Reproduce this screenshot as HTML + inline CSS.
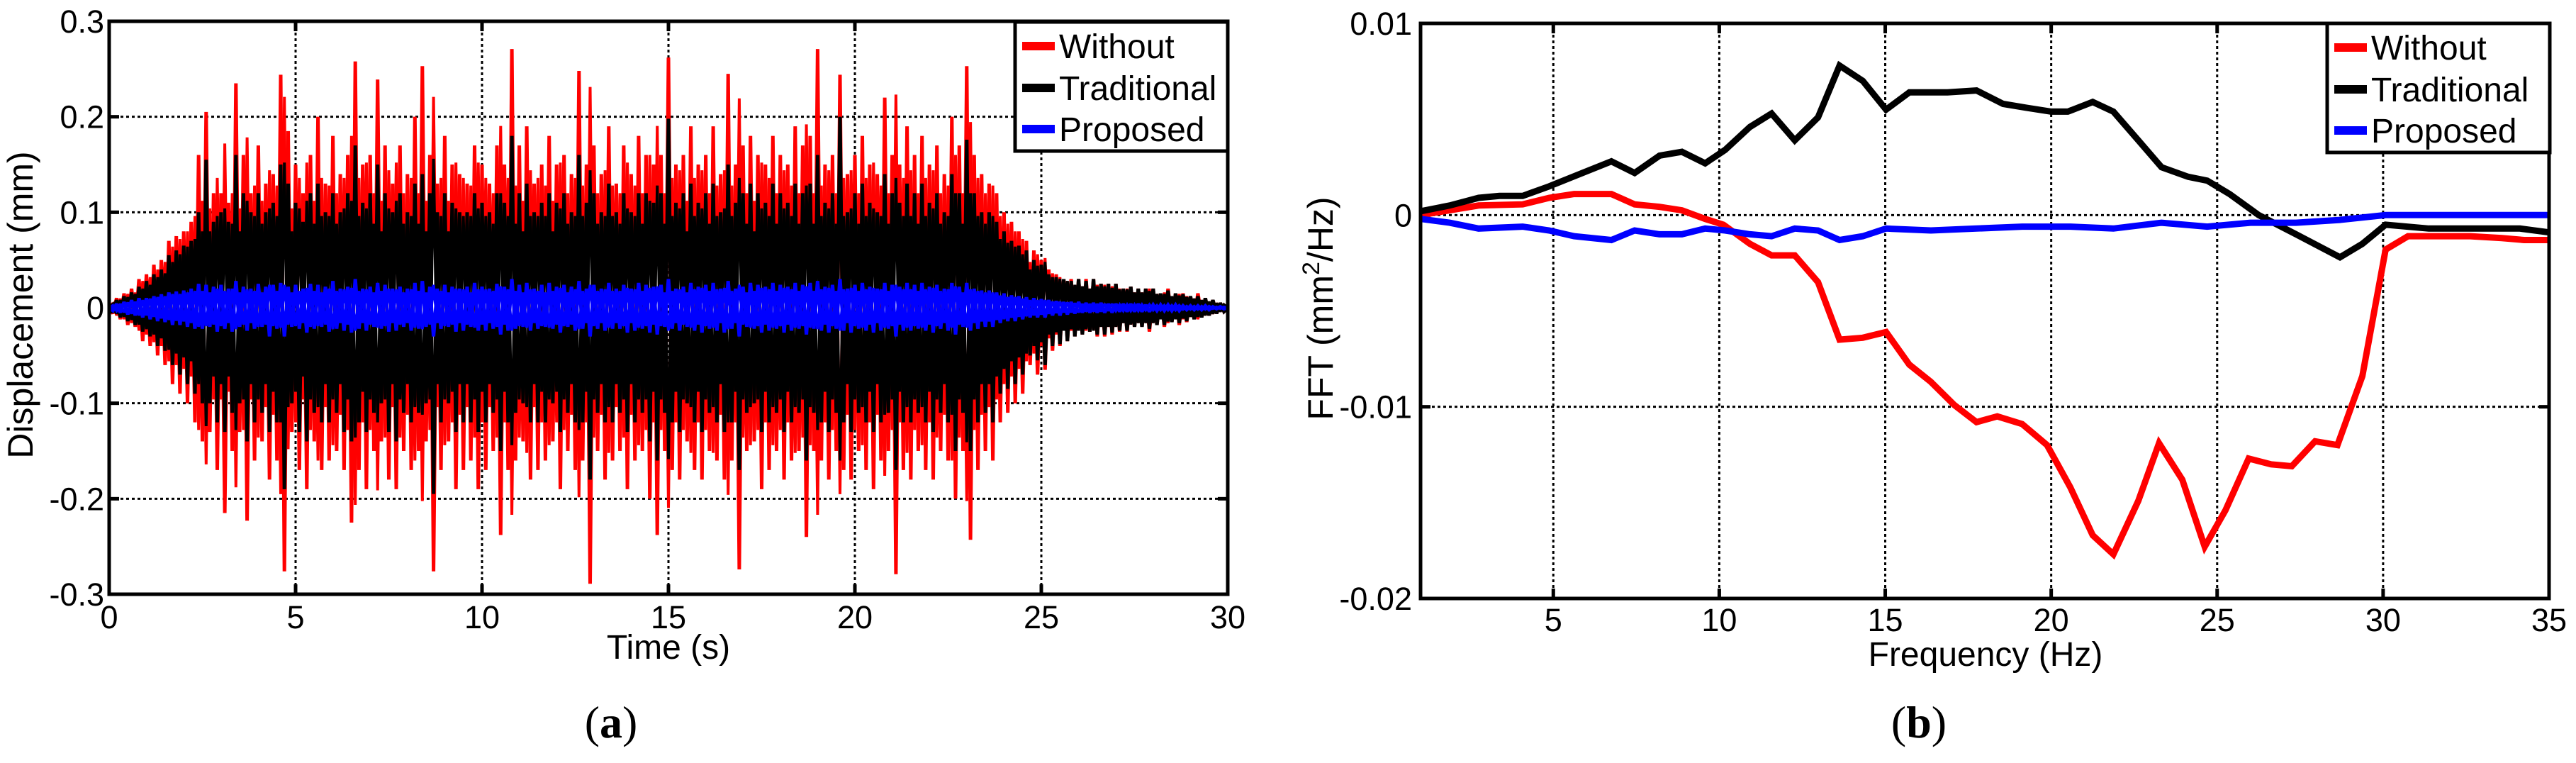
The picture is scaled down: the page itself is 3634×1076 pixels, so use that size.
<!DOCTYPE html>
<html><head><meta charset="utf-8"><style>
html,body{margin:0;padding:0;background:#fff;}
svg{display:block;font-family:"Liberation Sans",Arial,sans-serif;}
</style></head><body>
<svg id="fig" width="3634" height="1076" viewBox="0 0 3634 1076" xmlns="http://www.w3.org/2000/svg">
<rect x="0" y="0" width="3634" height="1076" fill="#fff"/>
<g id="pa"></g>
<g id="pb"></g>
<text x="862" y="1040" text-anchor="middle" font-family="'Liberation Serif',serif" font-size="64">(<tspan font-weight="bold">a</tspan>)</text>
<text x="2707" y="1040" text-anchor="middle" font-family="'Liberation Serif',serif" font-size="64">(<tspan font-weight="bold">b</tspan>)</text>
</svg>
<script>
// ---------- Chart (a) data: displacement samples every 0.1 s ----------
const aTimeStep = 0.1;
const aXTicks = [0,5,10,15,20,25,30];
const aYTicks = [-0.3,-0.2,-0.1,0,0.1,0.2,0.3];
const aYTickLabels = ["-0.3","-0.2","-0.1","0","0.1","0.2","0.3"];
const aWithout = [
0,-.006,.01,-.012,.015,-.018,.02,-.02,.03,-.035,
.035,-.04,.045,-.05,.05,-.06,.07,-.08,.075,-.09,
.08,-.1,.09,-.12,.16,-.14,.205,-.13,.12,-.17,
.12,-.215,.11,-.15,.235,-.13,.16,-.223,.12,-.16,
.17,-.14,.13,-.18,.14,-.16,.244,-.276,.185,-.13,
.15,-.17,.12,-.19,.16,-.14,.2,-.17,.13,-.16,
.18,-.15,.14,-.17,.16,-.225,.258,-.17,.15,-.19,
.16,-.15,.239,-.14,.17,-.18,.13,-.19,.17,-.15,
.14,-.17,.2,-.15,.253,-.14,.16,-.276,.13,-.17,
.18,-.14,.15,-.19,.14,-.17,.13,-.16,.17,-.19,
.15,-.17,.13,-.15,.17,-.238,.15,-.17,.271,-.16,
.17,-.14,.19,-.18,.13,-.17,.15,-.16,.18,-.14,
.15,-.19,.16,-.15,.14,-.17,.248,-.16,.15,-.289,
.17,-.15,.14,-.18,.19,-.16,.13,-.15,.17,-.19,
.14,-.16,.18,-.15,.16,-.2,.15,-.238,.16,-.15,
.262,-.17,.15,-.18,.16,-.14,.19,-.17,.15,-.18,
.16,-.15,.19,-.16,.14,-.18,.245,-.16,.15,-.274,
.17,-.15,.18,-.14,.16,-.19,.15,-.17,.18,-.15,
.16,-.18,.15,-.16,.19,-.15,.17,-.24,.18,-.15,
.271,-.16,.15,-.18,.16,-.15,.244,-.17,.14,-.18,
.16,-.15,.18,-.17,.15,-.19,.14,-.16,.22,-.15,
.16,-.279,.15,-.17,.19,-.18,.16,-.15,.18,-.17,
.15,-.18,.17,-.15,.14,-.16,.2,-.2,.17,-.15,
.253,-.243,.16,-.17,.14,-.15,.13,-.16,.12,-.12,
.1,-.11,.09,-.1,.08,-.09,.07,-.06,.06,-.07,
.05,-.065,.04,-.045,.035,-.04,.03,-.035,.03,-.03,
.03,-.028,.03,-.025,.03,-.03,.025,-.03,.025,-.028,
.025,-.025,.02,-.025,.022,-.02,.02,-.02,.02,-.025,
.02,-.018,.015,-.02,.02,-.015,.015,-.018,.015,-.015,
.012,-.012,.015,-.01,.01,-.008,.008,-.006,.005,-.004,
0];
const aTraditional = [
0,-.005,.008,-.01,.012,-.014,.016,-.018,.022,-.025,
.028,-.03,.035,-.04,.04,-.045,.055,-.06,.06,-.07,
.065,-.08,.07,-.09,.1,-.1,.155,-.1,.09,-.12,
.1,-.13,.09,-.11,.16,-.1,.12,-.14,.1,-.12,
.12,-.11,.1,-.13,.11,-.12,.15,-.19,.13,-.1,
.11,-.13,.09,-.14,.12,-.11,.13,-.12,.1,-.12,
.12,-.11,.1,-.13,.12,-.14,.17,-.12,.11,-.13,
.12,-.11,.15,-.1,.12,-.13,.1,-.14,.12,-.11,
.1,-.12,.13,-.11,.14,-.1,.12,-.195,.1,-.12,
.12,-.1,.11,-.13,.1,-.12,.1,-.12,.12,-.13,
.11,-.12,.1,-.11,.12,-.15,.11,-.12,.18,-.11,
.12,-.1,.13,-.12,.1,-.12,.11,-.12,.12,-.1,
.11,-.13,.12,-.11,.1,-.12,.16,-.12,.11,-.18,
.12,-.11,.1,-.12,.13,-.12,.1,-.11,.12,-.13,
.1,-.12,.12,-.11,.12,-.14,.11,-.16,.12,-.11,
.198,-.12,.11,-.13,.12,-.1,.13,-.12,.11,-.13,
.12,-.11,.13,-.12,.1,-.13,.15,-.12,.11,-.17,
.12,-.11,.13,-.1,.12,-.13,.11,-.12,.13,-.11,
.12,-.13,.11,-.12,.13,-.11,.12,-.16,.13,-.11,
.16,-.12,.11,-.13,.12,-.11,.2,-.12,.1,-.13,
.12,-.11,.13,-.12,.11,-.13,.1,-.12,.14,-.11,
.12,-.17,.11,-.12,.13,-.12,.12,-.11,.13,-.12,
.11,-.13,.12,-.11,.1,-.12,.14,-.15,.12,-.11,
.176,-.15,.12,-.12,.1,-.11,.1,-.12,.09,-.09,
.08,-.085,.07,-.08,.065,-.07,.06,-.05,.05,-.055,
.045,-.06,.035,-.04,.032,-.038,.03,-.035,.028,-.03,
.03,-.028,.028,-.025,.03,-.028,.025,-.028,.025,-.026,
.025,-.024,.02,-.024,.022,-.02,.02,-.02,.02,-.022,
.02,-.018,.015,-.018,.018,-.015,.015,-.016,.014,-.014,
.012,-.012,.012,-.01,.01,-.008,.008,-.006,.005,-.004,
0];
const aProposed = [
0,-.003,.004,-.005,.006,-.007,.008,-.008,.01,-.01,
.01,-.012,.012,-.014,.014,-.015,.016,-.018,.017,-.018,
.018,-.02,.02,-.022,.025,-.022,.024,-.02,.022,-.025,
.024,-.022,.02,-.025,.028,-.02,.022,-.024,.02,-.022,
.025,-.02,.022,-.03,.024,-.022,.026,-.03,.022,-.02,
.024,-.022,.02,-.026,.025,-.022,.024,-.02,.022,-.025,
.028,-.022,.02,-.024,.022,-.026,.03,-.022,.02,-.024,
.022,-.02,.026,-.022,.024,-.025,.02,-.024,.022,-.02,
.02,-.024,.026,-.022,.028,-.02,.022,-.03,.02,-.022,
.024,-.02,.022,-.025,.02,-.024,.022,-.02,.026,-.024,
.022,-.024,.02,-.022,.025,-.028,.022,-.024,.03,-.022,
.024,-.02,.026,-.024,.02,-.022,.024,-.02,.026,-.022,
.022,-.026,.024,-.02,.022,-.024,.028,-.022,.02,-.03,
.024,-.022,.02,-.024,.026,-.022,.02,-.022,.024,-.026,
.02,-.024,.026,-.022,.024,-.026,.022,-.028,.024,-.02,
.03,-.022,.02,-.024,.022,-.02,.026,-.024,.022,-.026,
.024,-.022,.026,-.024,.02,-.026,.028,-.022,.02,-.03,
.022,-.02,.026,-.022,.024,-.026,.022,-.024,.026,-.022,
.024,-.026,.022,-.024,.026,-.022,.024,-.028,.026,-.022,
.028,-.024,.022,-.026,.024,-.022,.03,-.024,.02,-.026,
.024,-.022,.026,-.024,.022,-.026,.02,-.024,.026,-.022,
.024,-.03,.022,-.024,.026,-.024,.024,-.022,.026,-.024,
.022,-.026,.024,-.022,.02,-.024,.026,-.028,.022,-.02,
.026,-.024,.02,-.022,.018,-.02,.018,-.02,.016,-.016,
.015,-.014,.013,-.014,.012,-.012,.011,-.01,.01,-.01,
.009,-.01,.008,-.008,.007,-.008,.006,-.007,.006,-.006,
.006,-.005,.005,-.005,.005,-.005,.005,-.005,.004,-.005,
.004,-.004,.004,-.004,.004,-.004,.004,-.004,.003,-.004,
.003,-.003,.003,-.003,.003,-.003,.003,-.003,.002,-.002,
.002,-.002,.002,-.002,.002,-.002,.001,-.001,.001,-.001,
0];

// ---------- Chart (b) data: FFT ----------
const bXTicks = [5,10,15,20,25,30,35];
const bYTicks = [-0.02,-0.01,0,0.01];
const bYTickLabels = ["-0.02","-0.01","0","0.01"];
const bTradFreq = [1,1.875,2.75,3.375,4.075,4.875,5.875,6.75,7.45,8.2,8.875,9.575,10.175,10.925,11.575,12.275,12.975,13.625,14.325,15.025,15.725,16.875,17.75,18.55,19.25,20,20.5,21.25,21.875,22.625,23.325,24.125,24.7,25.375,26.25,27.375,28.7,29.375,30.075,31.375,32.625,34.125,35];
const bTradVal = [.0002,.0005,.0009,.001,.001,.0015,.0022,.0028,.0022,.0031,.0033,.0027,.0034,.0046,.0053,.0039,.0051,.0078,.007,.0055,.0064,.0064,.0065,.0058,.0056,.0054,.0054,.0059,.0054,.0039,.0025,.002,.0018,.0011,0,-.001,-.0022,-.0015,-.0005,-.0007,-.0007,-.0007,-.0009];
const bWithoutFreq = [1,1.875,2.75,4.075,4.875,5.625,6.75,7.45,8.2,8.875,9.575,10.125,10.925,11.575,12.275,12.975,13.625,14.325,15.025,15.725,16.375,17.075,17.75,18.375,19.125,19.875,20.575,21.25,21.875,22.625,23.25,23.95,24.625,25.25,25.95,26.625,27.25,27.95,28.625,29.375,30.075,30.75,31.375,32.625,33.575,34.25,35];
const bWithoutVal = [0,.00025,.0005,.00056,.0009,.0011,.0011,.00056,.00043,.00025,-.0002,-.0005,-.0015,-.0021,-.0021,-.0035,-.0065,-.0064,-.0061,-.0078,-.0087,-.0099,-.0108,-.0105,-.0109,-.012,-.0142,-.0167,-.0177,-.0149,-.0119,-.0138,-.0173,-.0154,-.0127,-.013,-.0131,-.0118,-.012,-.0084,-.0018,-.0011,-.0011,-.0011,-.0012,-.0013,-.0013];
const bPropFreq = [1,1.875,2.75,4.075,4.875,5.625,6.75,7.45,8.2,8.875,9.575,10.175,10.925,11.575,12.275,12.975,13.625,14.325,15.025,16.375,17.75,19.125,20.575,21.875,23.325,24.7,26,27.375,28.7,30.075,31.375,35];
const bPropVal = [-.0002,-.0004,-.0007,-.0006,-.0008,-.0011,-.0013,-.0008,-.001,-.001,-.0007,-.0008,-.001,-.0011,-.0007,-.0008,-.0013,-.0011,-.0007,-.0008,-.0007,-.0006,-.0006,-.0007,-.0004,-.0006,-.0004,-.0004,-.00025,0,0,0];
const legendNames = ["Without","Traditional","Proposed"];

const NS = "http://www.w3.org/2000/svg";
function mk(parent, tag, attrs){
  const e = document.createElementNS(NS, tag);
  for (const k in attrs) e.setAttribute(k, attrs[k]);
  parent.appendChild(e);
  return e;
}

function drawAxes(g, L, R, T, B, xs, ys, xTicks, yTicks, yLabels, xGrid, yGrid, yLabelX, xLabelY){
  xGrid.forEach(v=>{
    const l = mk(g,'line',{x1:xs(v),x2:xs(v),y1:T,y2:B,stroke:'#000','stroke-width':3,'stroke-dasharray':'4 4'});
    
    
  });
  yGrid.forEach(v=>{
    const l = mk(g,'line',{x1:L,x2:R,y1:ys(v),y2:ys(v),stroke:'#000','stroke-width':3,'stroke-dasharray':'4 4'});
    
    
  });
  xTicks.forEach(v=>{
    const x = xs(v);
    mk(g,'line',{x1:x,x2:x,y1:B,y2:B-14,stroke:'#000','stroke-width':5});
    mk(g,'line',{x1:x,x2:x,y1:T,y2:T+14,stroke:'#000','stroke-width':5});
    const t = mk(g,'text',{x:x,y:xLabelY,'text-anchor':'middle','font-size':45});
    t.textContent = String(v);
    
    
  });
  yTicks.forEach((v,i)=>{
    const y = ys(v);
    mk(g,'line',{x1:L,x2:L+14,y1:y,y2:y,stroke:'#000','stroke-width':5});
    mk(g,'line',{x1:R,x2:R-14,y1:y,y2:y,stroke:'#000','stroke-width':5});
    const t = mk(g,'text',{x:yLabelX,y:y+16,'text-anchor':'end','font-size':45});
    t.textContent = yLabels[i];
    
    
  });
}

function frame(g,L,R,T,B){
  const r = mk(g,'rect',{x:L,y:T,width:R-L,height:B-T,fill:'none',stroke:'#000','stroke-width':5});
  
  
}

function legend(g, x0, y0, x1, y1, colors, sw){
  const box = mk(g,'rect',{x:x0,y:y0,width:x1-x0,height:y1-y0,fill:'#fff',stroke:'#000','stroke-width':5});
  
  
  const rows=[y0+34,y0+93,y0+151];
  legendNames.forEach((n,i)=>{
    const ln = mk(g,'line',{x1:x0+10,x2:x0+56,y1:rows[i],y2:rows[i],stroke:colors[i],'stroke-width':sw});
    
    
    const t = mk(g,'text',{x:x0+62,y:rows[i]+17,'font-size':48});
    t.textContent = n;
    
    
  });
}

// ---------- Chart (a) ----------
(function(){
  const g = document.getElementById('pa');
  const L=154,R=1732,T=30,B=838;
  const xs = v => L + (v-0)/(30-0)*(R-L);
  const ys = v => B - (v+0.3)/0.6*(B-T);
  drawAxes(g,L,R,T,B,xs,ys,aXTicks,aYTicks,aYTickLabels,[5,10,15,20,25],[-0.2,-0.1,0.1,0.2],147,886);
  const series=[[aWithout,'#ff0000','series-without'],[aTraditional,'#000000','series-traditional'],[aProposed,'#0000ff','series-proposed']];
  series.forEach(s=>{
    const grp = mk(g,'g',{});
    
    
    const pts = s[0].map((v,i)=>xs(i*aTimeStep).toFixed(1)+','+ys(v).toFixed(1)).join(' ');
    mk(grp,'polyline',{points:pts,fill:'none',stroke:s[1],'stroke-width':5,'stroke-linejoin':'miter','stroke-miterlimit':2});
    // mirrored pass to emulate the dense oscillation fill
    const pts2 = s[0].map((v,i)=>xs(i*aTimeStep).toFixed(1)+','+ys(-v*0.8).toFixed(1)).join(' ');
    mk(grp,'polyline',{points:pts2,fill:'none',stroke:s[1],'stroke-width':4,'stroke-linejoin':'miter','stroke-miterlimit':2});
  });
  frame(g,L,R,T,B);
  legend(g,1432,31,1732,213,['#ff0000','#000','#0000ff'],12);
  const xl = mk(g,'text',{x:943,y:929,'text-anchor':'middle','font-size':48});
  xl.textContent='Time (s)';
  
  
  const yl = mk(g,'text',{x:0,y:0,'text-anchor':'middle','font-size':50,transform:'translate(46,430) rotate(-90)'});
  yl.textContent='Displacement (mm)';
  
  
})();

// ---------- Chart (b) ----------
(function(){
  const g = document.getElementById('pb');
  const L=2004,R=3596,T=33,B=844;
  const xs = v => L + (v-1)/(35-1)*(R-L);
  const ys = v => B - (v+0.02)/0.03*(B-T);
  drawAxes(g,L,R,T,B,xs,ys,bXTicks,bYTicks,bYTickLabels,[5,10,15,20,25,30],[-0.01,0],1992,890);
  const series=[[bWithoutFreq,bWithoutVal,'#ff0000','series-without'],[bTradFreq,bTradVal,'#000000','series-traditional'],[bPropFreq,bPropVal,'#0000ff','series-proposed']];
  series.forEach(s=>{
    const pts = s[0].map((f,i)=>xs(f).toFixed(1)+','+ys(s[1][i]).toFixed(1)).join(' ');
    const p = mk(g,'polyline',{points:pts,fill:'none',stroke:s[2],'stroke-width':9,'stroke-linejoin':'miter','stroke-miterlimit':3});
    
    
  });
  frame(g,L,R,T,B);
  legend(g,3283,33,3597,215,['#ff0000','#000','#0000ff'],12);
  const xl = mk(g,'text',{x:2801,y:939,'text-anchor':'middle','font-size':48});
  xl.textContent='Frequency (Hz)';
  
  
  const yl = mk(g,'text',{x:0,y:0,'text-anchor':'middle','font-size':50,transform:'translate(1880,435) rotate(-90)'});
  yl.innerHTML='FFT (mm<tspan baseline-shift="super" font-size="34">2</tspan>/Hz)';
  
  
})();
</script>
</body></html>
